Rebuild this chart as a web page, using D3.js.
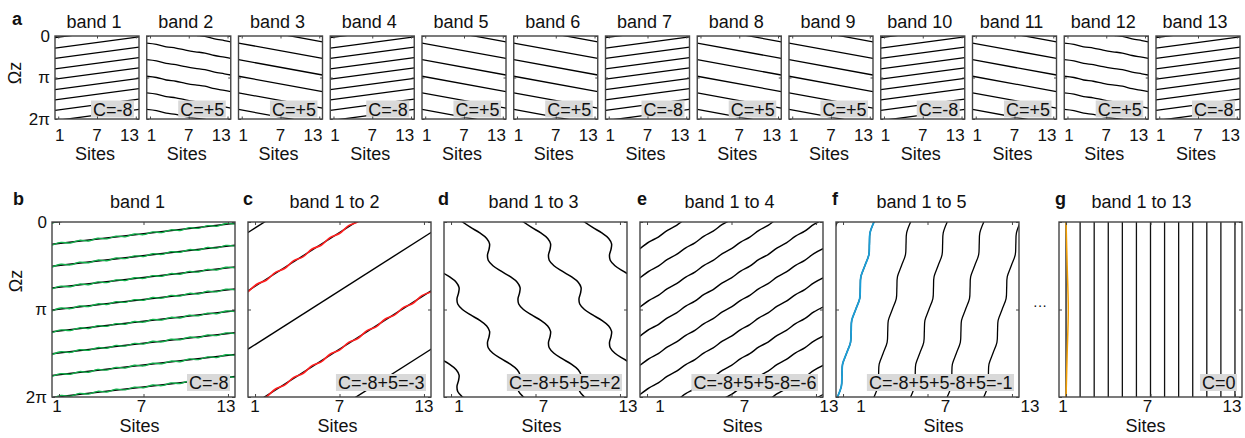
<!DOCTYPE html>
<html>
<head>
<meta charset="utf-8">
<title>Wannier centres per band</title>
<script src="https://d3js.org/d3.v7.min.js"></script>
<style>
  body { margin: 0; background: #fff; }
  text { font-family: "Liberation Sans", Arial, sans-serif; fill: #111; }
</style>
</head>
<body>
<svg width="1245" height="438"></svg>
<script>
// ---- values: x in sites, y = Ωz in units of π ----
const siteTicks = [1, 7, 13];
const phaseTicks = [0, 1, 2];
const phaseLabels = ["0", "π", "2π"];

// row a : single bands
const topTitles = ["band 1", "band 2", "band 3", "band 4", "band 5", "band 6", "band 7",
                   "band 8", "band 9", "band 10", "band 11", "band 12", "band 13"];
const topChern = [-8, 5, 5, -8, 5, 5, -8, 5, 5, -8, 5, 5, -8];
const topWavy = [0, 1, 0, 0, 0, 0, 0, 0, 0, 0, 0, 1, 0];
const negStarts = [0.29, 0.54, 0.79, 1.04, 1.29, 1.54, 1.79, 2.04];   // C=-8, 8 lines
const negLine = [[0.5, 0], [13.5, -0.27]];
const posStarts = [0.17, 0.57, 0.97, 1.37, 1.77];                     // C=+5, 5 lines
const posLine = [[0.5, 0], [13.5, 0.37]];
const posLineWavy = [[0.5, 0], [2, 0.03], [3.5, 0.09], [5, 0.12], [6.5, 0.17], [8, 0.21],
                     [9.5, 0.24], [11, 0.30], [12.5, 0.34], [13.5, 0.37]];

// rows b-g : accumulated bands
const botTitles = ["band 1", "band 1 to 2", "band 1 to 3", "band 1 to 4", "band 1 to 5", "band 1 to 13"];
const botLetters = ["b", "c", "d", "e", "f", "g"];
const botChern = ["C=-8", "C=-8+5=-3", "C=-8+5+5=+2", "C=-8+5+5-8=-6", "C=-8+5+5-8+5=-1", "C=0"];
const siteGrid = [0.5, 1.15, 1.8, 2.45, 3.1, 3.75, 4.4, 5.05, 5.7, 6.35, 7.0,
                  7.65, 8.3, 8.95, 9.6, 10.25, 10.9, 11.55, 12.2, 12.85, 13.5];

// b
const bStarts = [0.255, 0.505, 0.755, 1.005, 1.255, 1.505, 1.755, 2.005];
const bLine = [[0.5, 0], [13.5, -0.24]];
const bGreenY = [0.01, -0.022, -0.014, -0.046, -0.038, -0.07, -0.062, -0.094, -0.086, -0.118, -0.11,
                 -0.142, -0.134, -0.166, -0.158, -0.19, -0.182, -0.214, -0.206, -0.238, -0.23];
// c
const cStarts = [0.12, 0.787, 1.453];
const cLine = [[0.5, 0], [13.5, -1.333]];
const cRedY = [0.012, -0.079, -0.121, -0.212, -0.255, -0.345, -0.388, -0.479, -0.521, -0.612, -0.655,
               -0.745, -0.788, -0.879, -0.921, -1.012, -1.055, -1.145, -1.188, -1.279, -1.321];
const cRedStarts = [0.787, 2.12];
// d
const dX = [-2.522, -1.938, -1.290, -0.800, -0.595, -0.637, -0.743, -0.692, -0.355, 0.228, 0.876,
            1.367, 1.572, 1.530, 1.424, 1.474, 1.811, 2.395, 3.043, 3.534, 3.739, 3.696, 3.590,
            3.641, 3.978, 4.562, 5.210, 5.700, 5.905, 5.863, 5.757, 5.808, 6.145];
const dY = [0, 0.0625, 0.125, 0.1875, 0.25, 0.3125, 0.375, 0.4375, 0.5, 0.5625, 0.625, 0.6875,
            0.75, 0.8125, 0.875, 0.9375, 1, 1.0625, 1.125, 1.1875, 1.25, 1.3125, 1.375, 1.4375,
            1.5, 1.5625, 1.625, 1.6875, 1.75, 1.8125, 1.875, 1.9375, 2];
const dShifts = [0, 4.333, 8.667];
// e
const eStarts = [0.3, 0.633, 0.967, 1.3, 1.633, 1.967];
const eY = [0.005, -0.072, -0.128, -0.205, -0.262, -0.338, -0.395, -0.472, -0.528, -0.605, -0.662,
            -0.738, -0.795, -0.872, -0.928, -1.005, -1.062, -1.138, -1.195, -1.272, -1.328];
// f
const fX = [0, 0.2825, 0.325, 0.3675, 0.65, 0.9325, 0.975, 1.0175, 1.3, 1.5825, 1.625, 1.6675,
            1.95, 2.2325, 2.275, 2.3175, 2.6];
const fY = [2, 1.875, 1.75, 1.625, 1.5, 1.375, 1.25, 1.125, 1, 0.875, 0.75, 0.625, 0.5, 0.375,
            0.25, 0.125, 0];
const fShifts = [0.6, 3.2, 5.8, 8.4, 11.0];
const fBlue = [0.6];
// g
const gSites = [1, 2, 3, 4, 5, 6, 7, 8, 9, 10, 11, 12, 13];
const gOrange = [[1, 0], [1.08, 0.5], [1.16, 1], [1.08, 1.5], [1, 2]];

// ---- drawing ----
const svg = d3.select("svg");
let clipCount = 0;

function panel(left, top, w, h) {
  const id = "clip" + (clipCount++);
  svg.append("clipPath").attr("id", id).append("rect")
    .attr("x", left).attr("y", top).attr("width", w).attr("height", h);
  const x = d3.scaleLinear().domain([0.5, 13.5]).range([left, left + w]);
  const y = d3.scaleLinear().domain([0, 2]).range([top, top + h]);
  const g = svg.append("g");
  const lines = g.append("g").attr("clip-path", `url(#${id})`);
  return {x, y, g, lines, left, top, w, h};
}

// draws a curve once per shift, repeated over the x (13 sites) and y (2π) periods
function family(p, pts, shifts, color, width, wrap = true) {
  const reps = wrap ? [-1, 0, 1] : [0];
  const curve = pts.length > 2 ? d3.curveCatmullRom : d3.curveLinear;
  shifts.forEach(([dx, dy]) => {
    reps.forEach(i => reps.forEach(j => {
      const line = d3.line()
        .x(d => p.x(d[0] + dx + 13 * i))
        .y(d => p.y(d[1] + dy + 2 * j))
        .curve(curve);
      p.lines.append("path").attr("d", line(pts))
        .attr("fill", "none").attr("stroke", color)
        .attr("stroke-width", width).attr("stroke-linejoin", "round");
    }));
  });
}

function chern(p, txt, baseOff) {
  const right = p.left + p.w - 5;
  const base = p.top + p.h - baseOff;
  const box = p.g.append("rect");
  const t = p.g.append("text").attr("x", right - 1.5).attr("y", base)
    .attr("text-anchor", "end").attr("font-size", 18).text(txt);
  const bb = t.node().getBBox();
  box.attr("x", bb.x - 2).attr("y", base - 15).attr("width", right - bb.x + 2)
    .attr("height", 17).attr("fill", "#d9d9d9");
}

function frame(p, tick) {
  const st = a => a.call(s => s.select(".domain").remove())
    .call(s => s.selectAll("line").attr("stroke", "#444").attr("stroke-width", 1));
  p.g.append("g").attr("transform", `translate(0,${p.top + p.h})`)
    .call(d3.axisBottom(p.x).tickValues(siteTicks).tickSize(-tick).tickFormat("")).call(st);
  p.g.append("g").attr("transform", `translate(0,${p.top})`)
    .call(d3.axisTop(p.x).tickValues(siteTicks).tickSize(-tick).tickFormat("")).call(st);
  p.g.append("g").attr("transform", `translate(${p.left},0)`)
    .call(d3.axisLeft(p.y).tickValues(phaseTicks).tickSize(-tick).tickFormat("")).call(st);
  p.g.append("g").attr("transform", `translate(${p.left + p.w},0)`)
    .call(d3.axisRight(p.y).tickValues(phaseTicks).tickSize(-tick).tickFormat("")).call(st);
  p.g.append("rect").attr("x", p.left).attr("y", p.top).attr("width", p.w).attr("height", p.h)
    .attr("fill", "none").attr("stroke", "#444").attr("stroke-width", 1.4);
}

function yLabels(p, ox, oyLabel) {
  phaseTicks.forEach((v, i) => {
    p.g.append("text").attr("x", p.left - 5).attr("y", p.y(v)).attr("dy", "0.35em")
      .attr("text-anchor", "end").attr("font-size", 17).text(phaseLabels[i]);
  });
  p.g.append("text").attr("transform", `translate(${ox},${oyLabel}) rotate(-90)`)
    .attr("text-anchor", "middle").attr("font-size", 18).text("Ωz");
}

// row a
svg.append("text").attr("x", 12).attr("y", 25).attr("font-size", 18).attr("font-weight", "bold").text("a");
topTitles.forEach((title, k) => {
  const p = panel(55 + 91.75 * k, 36, 84, 83);
  if (topChern[k] < 0) {
    family(p, negLine, negStarts.map(s => [0, s]), "#000", 1.3);
  } else {
    family(p, topWavy[k] ? posLineWavy : posLine, posStarts.map(s => [0, s]), "#000", 1.3);
  }
  chern(p, "C=" + (topChern[k] > 0 ? "+" : "") + topChern[k], 3.5);
  frame(p, 2.5);
  p.g.append("text").attr("x", p.left + p.w / 2 - 3).attr("y", 27.5)
    .attr("text-anchor", "middle").attr("font-size", 18).text(title);
  siteTicks.forEach((v, i) => {
    const anchor = i === 0 ? "start" : i === 2 ? "end" : "middle";
    const xx = i === 0 ? p.left : i === 2 ? p.left + p.w : p.x(v);
    p.g.append("text").attr("x", xx).attr("y", 141).attr("text-anchor", anchor)
      .attr("font-size", 17).text(v);
  });
  p.g.append("text").attr("x", p.left + p.w / 2 - 2).attr("y", 160)
    .attr("text-anchor", "middle").attr("font-size", 18).text("Sites");
  if (k === 0) yLabels(p, 21, 73);
});

// rows b-g
const botLefts = [52, 248, 444, 640, 836, 1059];
const letterX = [13, 243, 438, 637, 832, 1055];
const labelDx = [-2, 0, 8, 13, 18, -3];
const titleDx = [-6, -5, -2, -2, -6, -9];
const bp = botLefts.map(l => panel(l, 222, 183, 175));

// b
family(bp[0], bLine, bStarts.map(s => [0, s]), "#000", 1.6);
family(bp[0], d3.zip(siteGrid, bGreenY), bStarts.map(s => [0, s]), "#12b04c", 1.3);
// c
family(bp[1], cLine, cStarts.map(s => [0, s]), "#000", 1.4);
family(bp[1], d3.zip(siteGrid, cRedY), cRedStarts.map(s => [0, s]), "#ff1f1f", 1.6, false);
// d
family(bp[2], d3.zip(dX, dY), dShifts.map(s => [s, 0]), "#000", 1.5);
// e
family(bp[3], d3.zip(siteGrid, eY), eStarts.map(s => [0, s]), "#000", 1.4);
// f
family(bp[4], d3.zip(fX, fY), fShifts.map(s => [s, 0]), "#000", 1.3);
family(bp[4], d3.zip(fX, fY), fBlue.map(s => [s, 0]), "#1a9fd9", 1.8);
// g
gSites.forEach(s => family(bp[5], [[s, 0], [s, 2]], [[0, 0]], "#111", 1.3, false));
family(bp[5], gOrange, [[0, 0]], "#f5a000", 1.5, false);

bp.forEach((p, k) => {
  chern(p, botChern[k], 8);
  frame(p, 3);
  svg.append("text").attr("x", letterX[k]).attr("y", 205).attr("font-size", 18)
    .attr("font-weight", "bold").text(botLetters[k]);
  svg.append("text").attr("x", p.left + p.w / 2 + titleDx[k]).attr("y", 208)
    .attr("text-anchor", "middle").attr("font-size", 18).text(botTitles[k]);
  siteTicks.forEach(v => {
    svg.append("text").attr("x", p.x(v) + labelDx[k]).attr("y", 412)
      .attr("text-anchor", "middle").attr("font-size", 17).text(v);
  });
  svg.append("text").attr("x", p.left + p.w / 2 + labelDx[k] - 2).attr("y", 432)
    .attr("text-anchor", "middle").attr("font-size", 18).text("Sites");
});
yLabels(bp[0], 22, 281);

svg.append("text").attr("x", 1040).attr("y", 310).attr("text-anchor", "middle")
  .attr("font-size", 14).attr("fill", "#333").text("···");
</script>
</body>
</html>
